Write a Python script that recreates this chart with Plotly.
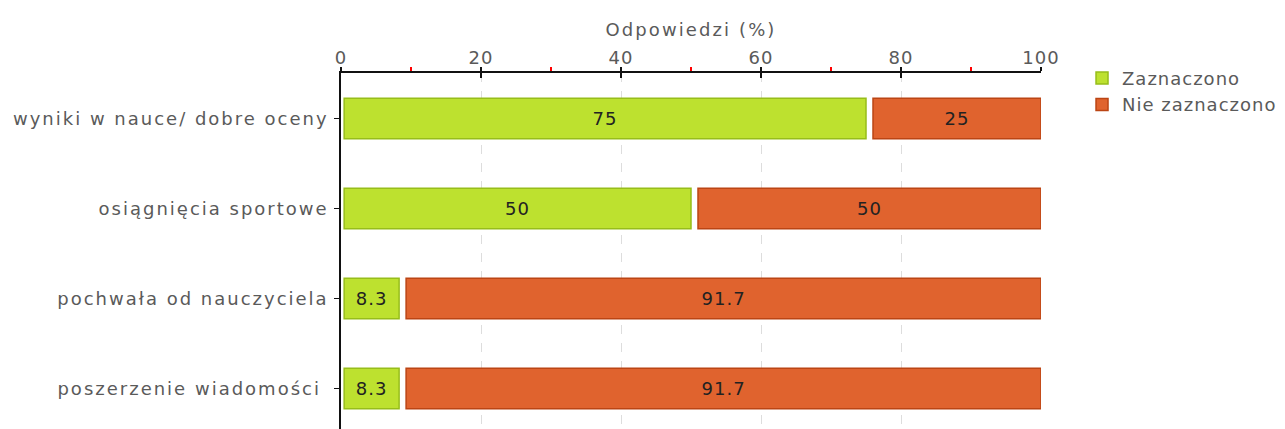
import plotly.graph_objects as go

categories = ["wyniki w nauce/ dobre oceny", "osiągnięcia sportowe", "pochwała od nauczyciela", "poszerzenie wiadomości "]
zaznaczono = [75, 50, 8.3, 8.3]
nie_zaznaczono = [25, 50, 91.7, 91.7]
tick_vals = [0, 20, 40, 60, 80, 100]

GREEN = "#bde12f"
GREEN_EDGE = "#97bd1a"
ORANGE = "#e0632e"
ORANGE_EDGE = "#bb4514"
FONT = "DejaVu Sans"
TXT = "#5a5a5a"
FS = 18
GAP_START = 0.45
GAP_MID = 1.0

fig = go.Figure()
fig.add_trace(go.Bar(
    y=categories, x=[v - GAP_START for v in zaznaczono], base=[GAP_START] * len(zaznaczono),
    orientation="h", name="Zaznaczono",
    marker=dict(color=GREEN, line=dict(color=GREEN_EDGE, width=1.5)),
    text=[f"{v:g}" for v in zaznaczono], textposition="inside", insidetextanchor="middle",
    textfont=dict(color="#222", size=FS, family=FONT), width=0.45,
))
fig.add_trace(go.Bar(
    y=categories, x=[v - GAP_MID for v in nie_zaznaczono], base=[z + GAP_MID for z in zaznaczono],
    orientation="h", name="Nie zaznaczono",
    marker=dict(color=ORANGE, line=dict(color=ORANGE_EDGE, width=1.5)),
    text=[f"{v:g}" for v in nie_zaznaczono], textposition="inside", insidetextanchor="middle",
    textfont=dict(color="#222", size=FS, family=FONT), width=0.45,
))
# invisible helper trace on a twin axis to draw the inward half of the major ticks
fig.add_trace(go.Scatter(x=[0, 100], y=[categories[0], categories[0]], xaxis="x2", mode="markers",
                         marker=dict(opacity=0), showlegend=False, hoverinfo="skip"))

fig.update_layout(
    width=1285, height=429,
    barmode="overlay",
    margin=dict(l=341, r=244, t=73, b=0, autoexpand=False),
    paper_bgcolor="white", plot_bgcolor="white",
    font=dict(family=FONT, size=FS, color=TXT),
    showlegend=True,
    legend=dict(x=1.0586, y=1.037, xanchor="left", yanchor="top",
                font=dict(size=FS, color=TXT, family=FONT),
                itemwidth=30, tracegroupgap=0, bgcolor="rgba(0,0,0,0)"),
    xaxis=dict(
        side="top", range=[0, 100], tickvals=tick_vals,
        showline=True, linecolor="#111", linewidth=1.5,
        ticks="outside", ticklen=4, tickcolor="#111", tickwidth=2,
        showgrid=True, gridcolor="#dddddd", griddash="dash", gridwidth=1,
        zeroline=False,
        minor=dict(dtick=10, ticks="outside", ticklen=4, tickcolor="#ff0000", tickwidth=1.5, showgrid=False),
        title=dict(text="Odpowiedzi (%)", font=dict(size=FS, color=TXT), standoff=6),
        tickfont=dict(size=FS, color=TXT),
        ticklabelstandoff=-4,
        fixedrange=True, automargin=False,
    ),
    xaxis2=dict(
        overlaying="x", side="top", range=[0, 100], tickvals=tick_vals,
        showticklabels=False, ticks="inside", ticklen=5, tickcolor="#111", tickwidth=2,
        showgrid=False, zeroline=False, showline=False, automargin=False,
    ),
    yaxis=dict(
        range=[3.45, -0.506], showline=True, linecolor="#111", linewidth=1.5,
        ticks="outside", ticklen=5, tickcolor="#111",
        showgrid=False, zeroline=False,
        tickfont=dict(size=FS, color=TXT),
        ticklabelstandoff=2,
        automargin=False,
    ),
)

post = """
var s = document.createElement('style');
s.innerHTML = 'html, body { margin: 0 !important; padding: 0 !important; }' +
  '.main-svg .ytick text { letter-spacing: 2px; }' +
  '.main-svg .xtitle { letter-spacing: 2.1px; }' +
  '.main-svg .xtick text { letter-spacing: 1px; }' +
  '.main-svg .legendtext { letter-spacing: 1px; }' +
  '.main-svg .legend, .main-svg .legend .scrollbox, .main-svg .legend g { clip-path: none !important; }' +
  '.main-svg .bartext { letter-spacing: 1px; }';
document.head.appendChild(s);
"""

fig.write_html("out.html", post_script=post, config={"displayModeBar": False})
